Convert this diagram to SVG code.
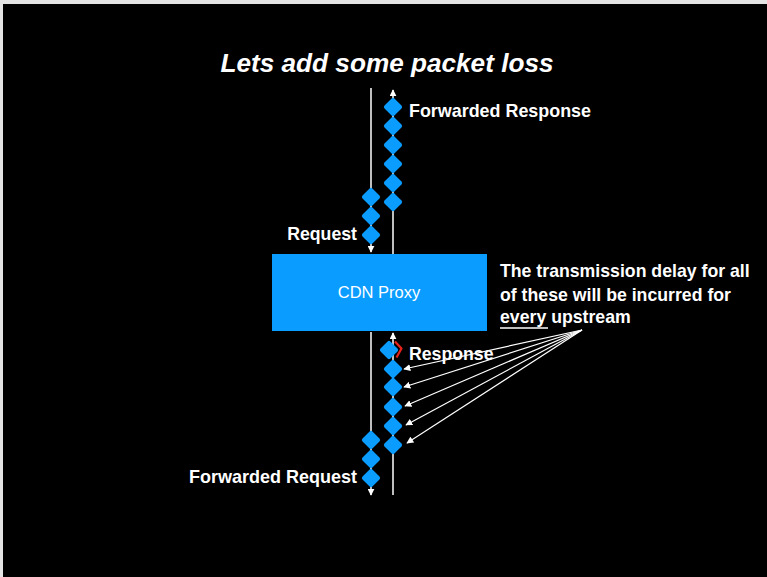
<svg xmlns="http://www.w3.org/2000/svg" xmlns:xlink="http://www.w3.org/1999/xlink" width="767" height="577" viewBox="0 0 767 577">
<style>
.t{font-family:"Liberation Sans",Arial,sans-serif;fill:#fff;font-weight:bold;font-size:17.7px}
.ln{stroke:#fff;stroke-width:1.5;fill:none}
.ar{stroke:#fff;stroke-width:1.2;fill:none}
</style>
<defs>
<marker id="ah" viewBox="0 0 10 10" refX="9" refY="5" markerWidth="7" markerHeight="7" orient="auto" markerUnits="userSpaceOnUse">
<path d="M0,0 L10,5 L0,10 z" fill="#fff"/>
</marker>
<rect id="dia" x="-7" y="-7" width="14" height="14" rx="2" transform="rotate(45)" fill="#0A9CFF"/>
</defs>
<rect width="767" height="577" fill="#e4e4e4"/>
<rect x="3" y="4" width="764" height="573" fill="#000"/>
<text class="t" x="387" y="72" font-style="italic" text-anchor="middle" textLength="333" lengthAdjust="spacingAndGlyphs" style="font-size:25px">Lets add some packet loss</text>
<g id="connectors">
<line class="ln" x1="371" y1="88" x2="371" y2="252" marker-end="url(#ah)"/>
<line class="ln" x1="393" y1="254" x2="393" y2="90" marker-end="url(#ah)"/>
<line class="ln" x1="371" y1="332" x2="371" y2="495" marker-end="url(#ah)"/>
<line class="ln" x1="393" y1="495" x2="393" y2="333" marker-end="url(#ah)"/>
<line class="ar" x1="582" y1="330" x2="404" y2="369" marker-end="url(#ah)"/>
<line class="ar" x1="582" y1="330" x2="404" y2="387" marker-end="url(#ah)"/>
<line class="ar" x1="582" y1="330" x2="405" y2="406" marker-end="url(#ah)"/>
<line class="ar" x1="582" y1="330" x2="406" y2="425" marker-end="url(#ah)"/>
<line class="ar" x1="582" y1="330" x2="407" y2="443" marker-end="url(#ah)"/>
</g>
<g id="upper-response-packets">
<use href="#dia" x="393" y="107"/>
<use href="#dia" x="393" y="126"/>
<use href="#dia" x="393" y="145"/>
<use href="#dia" x="393" y="164"/>
<use href="#dia" x="393" y="183"/>
<use href="#dia" x="393" y="202"/>
</g>
<g id="upper-request-packets">
<use href="#dia" x="371" y="197"/>
<use href="#dia" x="371" y="216"/>
<use href="#dia" x="371" y="235"/>
</g>
<g id="lower-response-packets">
<use href="#dia" x="389" y="350"/>
<path d="M395,341.5 L401.5,348.5 L396.5,357.5" stroke="#e8231a" stroke-width="2.2" fill="none" stroke-linejoin="round"/>
<use href="#dia" x="393" y="369"/>
<use href="#dia" x="393" y="387"/>
<use href="#dia" x="393" y="407"/>
<use href="#dia" x="393" y="426"/>
<use href="#dia" x="393" y="445"/>
</g>
<g id="lower-request-packets">
<use href="#dia" x="371" y="440"/>
<use href="#dia" x="371" y="459"/>
<use href="#dia" x="371" y="478"/>
</g>
<g id="cdn-proxy">
<rect x="272" y="254" width="215" height="77" fill="#0A9CFF"/>
<text x="379" y="298" font-family="'Liberation Sans',Arial,sans-serif" font-size="16.5" fill="#fff" text-anchor="middle">CDN Proxy</text>
</g>
<g id="labels">
<text class="t" x="409" y="117" textLength="182" lengthAdjust="spacingAndGlyphs">Forwarded Response</text>
<text class="t" x="357" y="240" text-anchor="end">Request</text>
<text class="t" x="409" y="360">Response</text>
<text class="t" x="357" y="483" text-anchor="end" textLength="168" lengthAdjust="spacingAndGlyphs">Forwarded Request</text>
</g>
<g id="note">
<text class="t" x="500" y="277">The transmission delay for all</text>
<text class="t" x="500" y="301">of these will be incurred for</text>
<text class="t" x="500" y="323">every upstream</text>
<line x1="500" y1="328" x2="548" y2="328" stroke="#fff" stroke-width="1.5"/>
</g>
</svg>
